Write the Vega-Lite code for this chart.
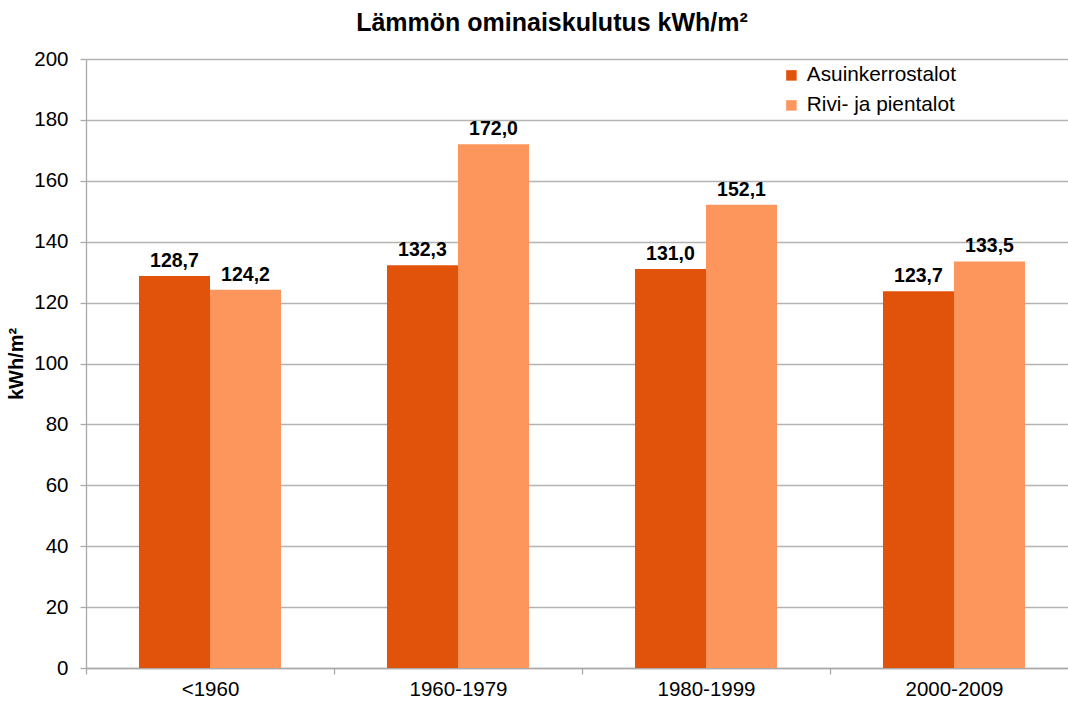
{
  "$schema": "https://vega.github.io/schema/vega-lite/v6.json",
  "width": 992,
  "height": 609,
  "autosize": {"type": "none"},
  "padding": {"left": 86, "top": 59, "right": 0, "bottom": 34},
  "background": "white",
  "title": {
    "text": "Lämmön ominaiskulutus kWh/m²",
    "font": "Liberation Sans",
    "fontSize": 25,
    "fontWeight": "bold",
    "color": "black",
    "offset": 13,
    "dx": -30
  },
  "data": {
    "values": [
      {"kausi": "<1960", "tyyppi": "Asuinkerrostalot", "arvo": 128.7},
      {"kausi": "<1960", "tyyppi": "Rivi- ja pientalot", "arvo": 124.2},
      {"kausi": "1960-1979", "tyyppi": "Asuinkerrostalot", "arvo": 132.3},
      {"kausi": "1960-1979", "tyyppi": "Rivi- ja pientalot", "arvo": 172.0},
      {"kausi": "1980-1999", "tyyppi": "Asuinkerrostalot", "arvo": 131.0},
      {"kausi": "1980-1999", "tyyppi": "Rivi- ja pientalot", "arvo": 152.1},
      {"kausi": "2000-2009", "tyyppi": "Asuinkerrostalot", "arvo": 123.7},
      {"kausi": "2000-2009", "tyyppi": "Rivi- ja pientalot", "arvo": 133.5}
    ]
  },
  "encoding": {
    "x": {
      "field": "kausi",
      "type": "nominal",
      "sort": null,
      "scale": {"paddingInner": 0, "paddingOuter": 0},
      "axis": {
        "title": null,
        "labelAngle": 0,
        "tickBand": "extent",
        "labelFontSize": 20.5,
        "labelPadding": 5,
        "tickSize": 6
      }
    },
    "xOffset": {
      "field": "tyyppi",
      "type": "nominal",
      "scale": {"paddingInner": 0, "paddingOuter": 0.746}
    },
    "y": {
      "field": "arvo",
      "type": "quantitative",
      "scale": {"domain": [0, 200], "nice": false},
      "axis": {
        "title": "kWh/m²",
        "titleFontSize": 20,
        "titleFontWeight": "bold",
        "titlePadding": 7,
        "values": [0, 20, 40, 60, 80, 100, 120, 140, 160, 180, 200],
        "labelFontSize": 20.5,
        "labelPadding": 12,
        "tickSize": 6,
        "grid": true
      }
    }
  },
  "layer": [
    {
      "mark": {"type": "bar"},
      "encoding": {
        "color": {
          "field": "tyyppi",
          "type": "nominal",
          "scale": {"range": ["#E1530A", "#FC965C"]},
          "legend": {
            "title": null,
            "orient": "none",
            "legendX": 691,
            "legendY": 2,
            "symbolType": "square",
            "symbolSize": 110,
            "symbolStrokeWidth": 0,
            "labelFontSize": 20.8,
            "labelOffset": 5,
            "rowPadding": 8,
            "padding": 4
          }
        }
      }
    },
    {
      "mark": {
        "type": "text",
        "baseline": "alphabetic",
        "dy": -9,
        "fontSize": 19.5,
        "fontWeight": "bold",
        "color": "black"
      },
      "encoding": {
        "text": {"field": "arvo", "type": "quantitative", "format": ".1f"}
      }
    }
  ],
  "config": {
    "font": "Liberation Sans",
    "locale": {
      "number": {"decimal": ",", "thousands": " ", "grouping": [3], "currency": ["", " €"]}
    },
    "view": {"stroke": null},
    "axis": {
      "labelColor": "black",
      "titleColor": "black",
      "labelFont": "Liberation Sans",
      "titleFont": "Liberation Sans",
      "domainColor": "#aaaaaa",
      "tickColor": "#aaaaaa",
      "gridColor": "#b3b3b3",
      "domainWidth": 1.3,
      "tickWidth": 1.3,
      "gridWidth": 1.3
    },
    "legend": {"labelColor": "black", "labelFont": "Liberation Sans"}
  }
}
